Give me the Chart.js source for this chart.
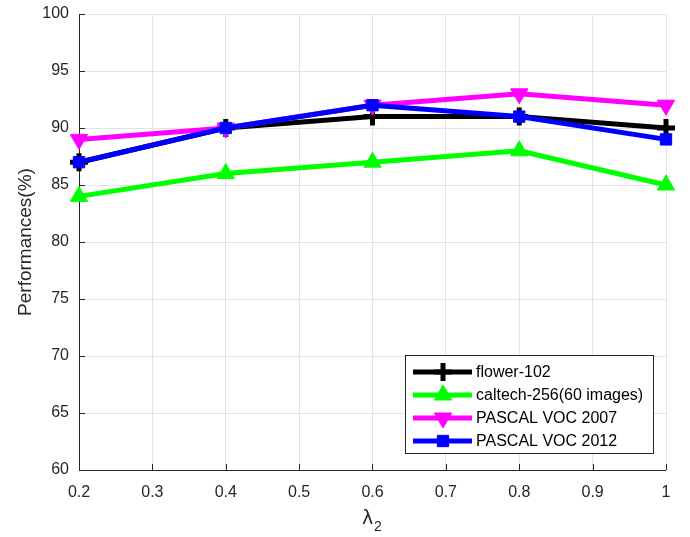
<!DOCTYPE html>
<html>
<head>
<meta charset="utf-8">
<script src="https://cdn.jsdelivr.net/npm/chart.js@4"></script>
<style>
  html, body { margin: 0; padding: 0; background: #fff; }
  #wrap { width: 690px; height: 537px; position: relative; }
</style>
</head>
<body>
<div id="wrap"><canvas id="chart" width="690" height="537"></canvas></div>
<script>
// data
var lambdas = [0.2, 0.4, 0.6, 0.8, 1.0];
var seriesNames = ['flower-102', 'caltech-256(60 images)', 'PASCAL VOC 2007', 'PASCAL VOC 2012'];
var flower102 = [87, 90, 91, 91, 90];
var caltech256 = [84, 86, 87, 88, 85];
var voc2007 = [89, 90, 92, 93, 92];
var voc2012 = [87, 90, 92, 91, 89];
var yTicks = [60, 65, 70, 75, 80, 85, 90, 95, 100];
var xTicks = [0.2, 0.3, 0.4, 0.5, 0.6, 0.7, 0.8, 0.9, 1];

var FONT = 'Liberation Sans, Arial, Helvetica, sans-serif';

function pts(vals) {
  return vals.map(function(v, i) { return { x: lambdas[i], y: v }; });
}

function mkSet(label, vals, color, style, rot, order, radius) {
  return {
    label: label,
    data: pts(vals),
    borderColor: color,
    backgroundColor: color,
    borderWidth: 5,
    pointStyle: style,
    pointRotation: rot,
    pointRadius: radius,
    pointBorderWidth: style === 'cross' ? 5 : 1,
    pointBorderColor: color,
    pointBackgroundColor: color,
    tension: 0,
    clip: false,
    order: order
  };
}

var datasets = [
  mkSet(seriesNames[0], flower102, '#000000', 'cross', 0, 4, 9),
  mkSet(seriesNames[1], caltech256, '#00ff00', 'triangle', 0, 3, 10),
  mkSet(seriesNames[2], voc2007, '#ff00ff', 'triangle', 180, 2, 10),
  mkSet(seriesNames[3], voc2012, '#0000ff', 'rect', 0, 1, 8)
];

// box, inward ticks, x label and legend inside the axes
var boxPlugin = {
  id: 'boxPlugin',
  beforeDatasetsDraw: function(chart) {
    var ctx = chart.ctx, a = chart.chartArea;
    var xs = chart.scales.x, ys = chart.scales.y;
    ctx.save();
    ctx.lineWidth = 1;
    ctx.strokeStyle = '#262626';
    ctx.beginPath();
    ctx.moveTo(a.left + 0.5, a.top);
    ctx.lineTo(a.left + 0.5, a.bottom + 0.5);
    ctx.lineTo(a.right, a.bottom + 0.5);
    xTicks.forEach(function(t) {
      var px = Math.round(xs.getPixelForValue(t)) + 0.5;
      ctx.moveTo(px, a.bottom); ctx.lineTo(px, a.bottom - 6);
    });
    yTicks.forEach(function(t) {
      var py = Math.round(ys.getPixelForValue(t)) + 0.5;
      ctx.moveTo(a.left, py); ctx.lineTo(a.left + 6, py);
    });
    ctx.stroke();

    // lambda_2 axis label
    ctx.fillStyle = '#262626';
    ctx.textAlign = 'left';
    ctx.textBaseline = 'alphabetic';
    ctx.font = '19px DejaVu Sans, ' + FONT;
    ctx.fillText('λ', 362, 524);
    ctx.font = '14px ' + FONT;
    ctx.fillText('2', 374, 531);
    ctx.restore();
  },
  afterDatasetsDraw: function(chart) {
    var ctx = chart.ctx;
    ctx.save();
    var lx = 405, ly = 355, lw = 248, lh = 98;
    ctx.fillStyle = '#fff';
    ctx.fillRect(lx, ly, lw, lh);
    ctx.lineWidth = 1;
    ctx.strokeStyle = '#262626';
    ctx.strokeRect(lx + 0.5, ly + 0.5, lw, lh);
    chart.data.datasets.forEach(function(ds, i) {
      var cy = 372 + i * 23;
      ctx.strokeStyle = ds.borderColor;
      ctx.fillStyle = ds.borderColor;
      ctx.lineWidth = 5;
      ctx.beginPath();
      ctx.moveTo(413, cy); ctx.lineTo(472, cy);
      ctx.stroke();
      ctx.lineWidth = ds.pointBorderWidth;
      Chart.helpers.drawPoint(ctx, {
        pointStyle: ds.pointStyle,
        rotation: ds.pointRotation,
        radius: ds.pointRadius,
        borderWidth: ds.pointBorderWidth
      }, 443, cy);
      ctx.fillStyle = '#000';
      ctx.font = '16px ' + FONT;
      ctx.textAlign = 'left';
      ctx.textBaseline = 'middle';
      ctx.fillText(ds.label, 476, cy + 1);
    });
    ctx.restore();
  }
};

new Chart(document.getElementById('chart'), {
  type: 'line',
  data: { datasets: datasets },
  options: {
    responsive: false,
    animation: false,
    layout: { padding: { top: 13, right: 24, left: 0, bottom: 0 } },
    plugins: {
      legend: { display: false },
      tooltip: { enabled: false }
    },
    scales: {
      x: {
        type: 'linear',
        min: 0.2, max: 1,
        afterBuildTicks: function(s) { s.ticks = xTicks.map(function(v) { return { value: v }; }); },
        afterFit: function(s) { s.height = 67; s.paddingLeft = 0; s.paddingRight = 0; },
        grid: { color: '#e3e3e3', drawTicks: false },
        border: { display: false },
        ticks: { color: '#262626', font: { family: FONT, size: 16 }, padding: 13, maxRotation: 0,
          callback: function(v) { return String(Math.round(v * 10) / 10); } },
        title: { display: false }
      },
      y: {
        min: 60, max: 100,
        afterBuildTicks: function(s) { s.ticks = yTicks.map(function(v) { return { value: v }; }); },
        afterFit: function(s) { s.width = 79; s.paddingTop = 0; s.paddingBottom = 0; },
        grid: { color: '#e3e3e3', drawTicks: false },
        border: { display: false },
        ticks: { color: '#262626', font: { family: FONT, size: 16 }, padding: 10 },
        title: { display: true, text: 'Performances(%)', color: '#262626', font: { family: FONT, size: 19 }, padding: { top: 14, bottom: 0 } }
      }
    }
  },
  plugins: [boxPlugin]
});
</script>
</body>
</html>
